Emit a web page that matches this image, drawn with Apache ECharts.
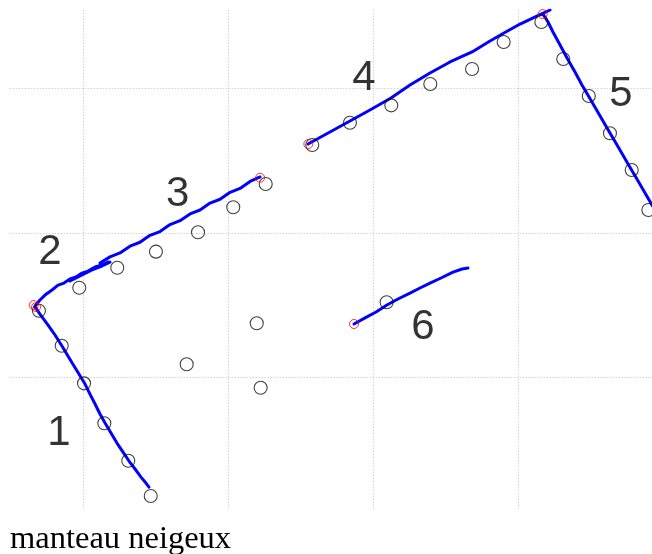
<!DOCTYPE html>
<html>
<head>
<meta charset="utf-8">
<script src="https://cdn.jsdelivr.net/npm/echarts@6/dist/echarts.min.js"></script>
<style>html,body{margin:0;padding:0;background:#fff}#c{width:652px;height:554px}</style>
</head>
<body>
<div id="c"></div>
<script>
// Title and stroke labels
var titleText = "manteau neigeux";
var strokeLabels = ["1", "2", "3", "4", "5", "6"];
var labelPos = [[83.2, 61.8], [77.0, 186.8], [165.0, 226.9], [293.6, 307.1], [470.8, 296.0], [334.3, 135.0]];

// Grid reference values
var gridX = [100, 200, 300, 400];
var gridY = [100, 200, 300];

// Pen strokes (blue)
var stroke1 = [[66.7,148.9],[70.1,144.0],[75.7,136.4],[80.5,129.5],[85.3,121.9],[89.4,115.0],[93.6,108.1],[97.0,102.5],[101.2,95.6],[104.6,88.7],[108.1,81.8],[111.5,74.9],[115.0,68.7],[119.1,61.8],[123.2,54.8],[127.4,48.6],[131.5,42.4],[135.7,36.9],[139.8,31.3],[143.2,27.2],[145.3,24.4]];
var stroke2 = [[66.7,149.5],[70.1,153.7],[73.6,157.1],[78.4,160.6],[82.6,164.0],[86.7,165.4],[90.8,168.2],[95.0,169.6],[99.1,172.3],[103.2,173.7],[108.1,176.5],[112.9,177.9],[117.0,179.9],[111.5,177.2],[106.0,174.4],[100.5,171.7],[95.0,168.9],[90.8,166.8],[96.3,170.3],[101.9,173.0],[107.4,175.1],[112.9,177.2],[118.4,179.9]];
var stroke3 = [[221.9,238.7],[215.0,235.6],[208.1,230.8],[201.2,228.1],[194.3,223.3],[187.4,220.7],[180.5,215.9],[173.6,213.2],[166.7,208.5],[159.8,205.8],[152.9,201.0],[146.0,198.4],[139.1,193.6],[132.2,190.9],[125.3,186.2],[118.4,183.5],[111.5,179.3]];
var stroke4 = [[255.0,261.5],[270.1,269.8],[283.9,277.4],[297.7,285.0],[312.2,293.3],[325.3,302.3],[339.1,310.6],[352.9,318.2],[368.1,325.1],[380.5,332.7],[390.1,338.2],[401.2,344.4],[415.7,351.3],[421.9,354.1]];
var stroke5 = [[417.0,351.3],[420.5,345.8],[423.9,338.9],[428.8,329.9],[433.6,320.9],[439.1,311.3],[443.9,302.3],[448.8,294.0],[453.6,285.7],[458.4,277.4],[463.2,269.1],[468.1,260.8],[472.9,252.5],[477.7,244.2],[482.6,235.9],[487.4,227.6],[492.2,219.4],[497.7,210.4]];
var stroke6 = [[286.7,137.1],[294.3,141.3],[301.9,145.4],[309.4,150.2],[317.0,154.4],[325.3,158.5],[332.2,162.0],[339.1,165.4],[346.7,168.9],[355.0,173.0],[361.2,175.1],[365.3,175.8]];

// Reference points (black open circles)
var refPoints = [[69.4,146.3],[85.1,122.1],[100.5,96.1],[114.5,68.5],[131.0,42.6],[146.5,18.2],
  [97.2,162.2],[123.4,176.0],[150.1,187.1],[179.1,200.5],[203.4,217.8],[225.8,233.9],
  [257.9,260.8],[283.9,276.2],[312.4,288.2],[339.3,303.0],[368.1,313.3],[389.9,332.0],[415.9,345.8],
  [431.0,320.2],[448.6,294.7],[463.2,268.9],[478.2,243.5],[489.7,215.9],
  [219.6,137.6],[171.3,109.3],[222.3,93.1],[309.2,152.1]];

// Stroke start points (red circles)
var startPoints = [[65.8,150.2],[67.4,148.8],[221.9,238.2],[255.2,261.5],[416.8,351.3],[286.7,137.1]];

var chart = echarts.init(document.getElementById('c'), null, {renderer: 'canvas'});
var strokes = [stroke1, stroke2, stroke3, stroke4, stroke5, stroke6];
var series = [];

series.push({
  type: 'line', data: [], silent: true, z: 1,
  markLine: {
    silent: true, z: 1, symbol: ['none', 'none'], label: {show: false},
    lineStyle: {color: '#d4d4d4', type: [1.5, 1.5], width: 1},
    data: gridX.map(function (v) { return {xAxis: v}; }).concat(gridY.map(function (v) { return {yAxis: v}; }))
  }
});

strokes.forEach(function (s) {
  series.push({
    type: 'line', data: s, showSymbol: false, symbol: 'none', smooth: false,
    lineStyle: {color: '#0000ff', width: 3, join: 'round', cap: 'round'}, z: 3, clip: true
  });
});

series.push({
  type: 'scatter', data: refPoints, symbol: 'circle', symbolSize: 13,
  itemStyle: {color: 'rgba(0,0,0,0)', borderColor: '#111', borderWidth: 1.1}, z: 4
});
series.push({
  type: 'scatter', data: startPoints, symbol: 'circle', symbolSize: 9,
  itemStyle: {color: 'rgba(0,0,0,0)', borderColor: '#ff0000', borderWidth: 1}, z: 5
});
series.push({
  type: 'scatter', symbolSize: 0, z: 6,
  data: labelPos.map(function (p, i) { return {value: p, name: strokeLabels[i]}; }),
  label: {show: true, position: 'inside', formatter: function (p) { return p.name; },
    fontSize: 42, color: '#000', fontFamily: 'Liberation Sans, Arial, sans-serif'}
});

chart.setOption({
  animation: false,
  backgroundColor: '#fff',
  title: {text: titleText, left: 5, top: 518,
    textStyle: {fontFamily: 'Liberation Serif, serif', fontSize: 32.5, fontWeight: 'normal', color: '#000'}},
  grid: {left: 9.5, right: 0, top: 10, bottom: 45},
  xAxis: {type: 'value', min: 49.1, max: 492.2, show: false, splitLine: {show: false}},
  yAxis: {type: 'value', min: 9.26, max: 354.1, show: false, splitLine: {show: false}},
  series: series
});
</script>
</body>
</html>
